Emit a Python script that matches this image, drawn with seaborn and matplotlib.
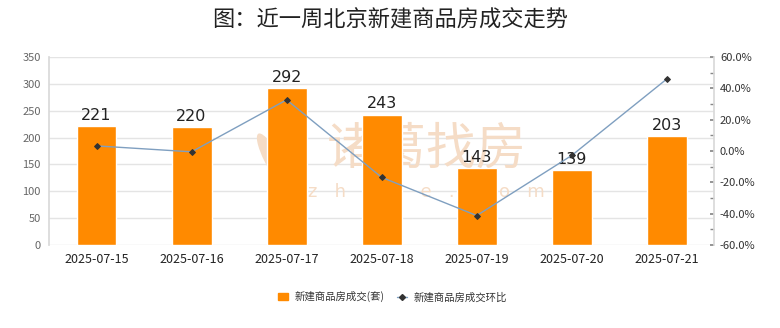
import numpy as np
import pandas as pd
import matplotlib
matplotlib.use("Agg")
import matplotlib.pyplot as plt
from matplotlib.ticker import MultipleLocator, FuncFormatter
from matplotlib.lines import Line2D
from matplotlib.patches import Patch, Ellipse
import seaborn as sns

# Weekly new-home transactions in Beijing
dates = ["2025-07-15", "2025-07-16", "2025-07-17", "2025-07-18",
         "2025-07-19", "2025-07-20", "2025-07-21"]
deals = [221, 220, 292, 243, 143, 139, 203]
mom_pct = [3.3, -0.5, 32.7, -16.8, -41.2, -2.8, 46.0]

title = "图：近一周北京新建商品房成交走势"
bar_label = "新建商品房成交(套)"
line_label = "新建商品房成交环比"

sns.set_theme(style="white")
plt.rcParams["font.family"] = ["Noto Sans CJK SC", "DejaVu Sans"]

df = pd.DataFrame({"date": dates, "deals": deals, "pct": mom_pct})
df["pos"] = np.arange(len(df))

fig = plt.figure(figsize=(7.8, 3.28), dpi=100)
ax = fig.add_axes([0.0628, 0.253, 0.853, 0.573])

bar_color = "#FF8A00"
sns.barplot(data=df, x="date", y="deals", color=bar_color, width=0.42,
            saturation=1, ax=ax, zorder=3)

ax.set_ylim(0, 350)
ax.yaxis.set_major_locator(MultipleLocator(50))
ax.grid(axis="y", color="#e4e4e4", linewidth=1, zorder=0)
ax.set_axisbelow(True)
ax.set_xlabel("")
ax.set_ylabel("")
for side in ["top", "right", "bottom"]:
    ax.spines[side].set_visible(False)
ax.spines["left"].set_color("#d9d9d9")
ax.tick_params(axis="y", length=0, labelsize=8, labelcolor="#666666", pad=6)
ax.tick_params(axis="x", length=0, labelsize=9, labelcolor="#222222", pad=6)

for p, v in zip(ax.patches, deals):
    ax.text(p.get_x() + p.get_width() / 2, v + 6, f"{v}", ha="center",
            va="bottom", fontsize=11.5, color="#222222", zorder=6,
            family="DejaVu Sans")

# Faint brand watermark, behind the bars
wm = "#f5dcc6"
ax.text(0.547, 0.543, "诸葛找房", transform=fig.transFigure, ha="center",
        va="center", fontsize=36, color=wm, zorder=1)
ax.text(0.547, 0.415, "z   h   u   g   e   .   c   o   m",
        transform=fig.transFigure, ha="center", va="center", fontsize=13,
        color=wm, zorder=1, family="DejaVu Sans")
for dx, ang in [(-0.012, 12), (0.012, -12)]:
    ax.add_patch(Ellipse((0.362 + dx, 0.51), 0.022, 0.17, angle=ang,
                         transform=fig.transFigure, facecolor=wm,
                         edgecolor="none", zorder=1))

ax2 = ax.twinx()
sns.lineplot(data=df, x="pos", y="pct", ax=ax2, color="#7f9fc0",
             linewidth=1.0, marker="D", markersize=3,
             markerfacecolor="#333333", markeredgecolor="#333333",
             zorder=4)
ax2.set_ylim(-60, 60)
ax2.yaxis.set_major_locator(MultipleLocator(20))
ax2.yaxis.set_minor_locator(MultipleLocator(10))
ax2.yaxis.set_major_formatter(FuncFormatter(lambda v, _: f"{v:.1f}%"))
ax2.set_xlabel("")
ax2.set_ylabel("")
for side in ["top", "left", "bottom"]:
    ax2.spines[side].set_visible(False)
ax2.spines["right"].set_color("#d9d9d9")
ax2.tick_params(axis="y", which="both", direction="in", length=3,
                color="#888888", labelsize=8, labelcolor="#333333", pad=4)
ax.set_xlim(-0.5, len(dates) - 0.5)

fig.suptitle(title, x=0.5, y=0.975, fontsize=16, color="#222222",
             fontweight="normal")

handles = [
    Patch(facecolor=bar_color, edgecolor=bar_color, label=bar_label),
    Line2D([0], [0], color="#7f9fc0", linewidth=1.0, marker="D",
           markersize=3, markerfacecolor="#333333",
           markeredgecolor="#333333", label=line_label),
]
fig.legend(handles=handles, loc="center", bbox_to_anchor=(0.503, 0.095),
           ncol=2, frameon=False, fontsize=7.5, handlelength=1.0,
           handleheight=0.7, columnspacing=1.2, handletextpad=0.6,
           labelcolor="#333333")

fig.savefig("out.png", dpi=100)
